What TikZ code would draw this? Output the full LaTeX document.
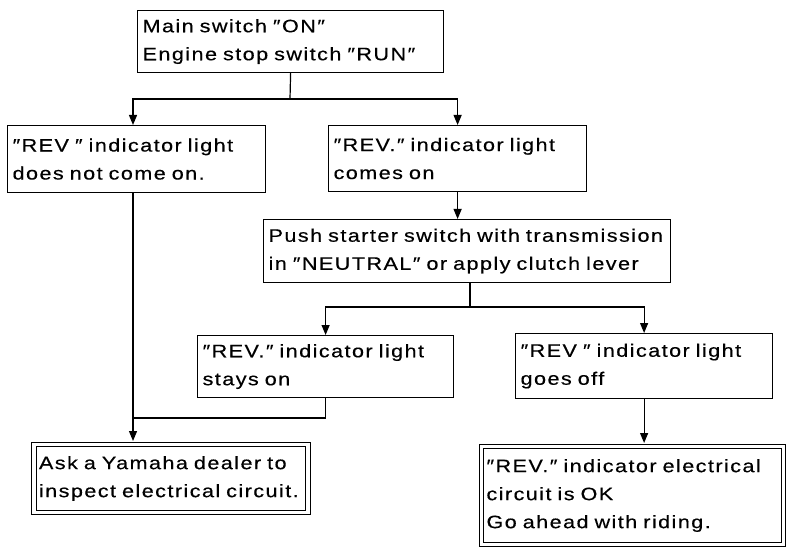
\documentclass[tikz,border=0pt]{standalone}
\usepackage{fontspec}
\setmainfont{Liberation Sans}[FakeStretch=1.2,LetterSpace=8,FakeBold=0.4]
\usetikzlibrary{arrows.meta}
\begin{document}
\begin{tikzpicture}[x=1pt, y=-1pt,
  font=\fontsize{18}{28}\selectfont,
  box/.style={draw, line width=1.2pt, anchor=north west, align=left,
              inner xsep=5pt, inner ysep=0pt},
  dbox/.style={box, double, double distance=3.6pt, line width=1pt},
  arr/.style={line width=1.2pt, -{Triangle[length=10pt,width=8pt]}},
  ln/.style={line width=1.2pt},
]
  \useasboundingbox (0,0) rectangle (787,548);

  \node[box, text width=296pt, minimum height=62pt] (top) at (137,10)
    {Main switch ″ON″\\Engine stop switch ″RUN″};
  \node[box, text width=248pt, minimum height=67pt] (no) at (7,125)
    {″REV ″ indicator light\\does not come on.};
  \node[box, text width=248pt, minimum height=66pt] (on) at (328,125)
    {″REV.″ indicator light\\comes on};
  \node[box, text width=397pt, minimum height=63pt] (push) at (263,219)
    {Push starter switch with transmission\\in ″NEUTRAL″ or apply clutch lever};
  \node[box, text width=246pt, minimum height=62pt] (stay) at (197,335)
    {″REV.″ indicator light\\stays on};
  \node[box, text width=247pt, minimum height=65pt] (off) at (515,333)
    {″REV ″ indicator light\\goes off};
  \node[dbox, text width=264pt, minimum height=68pt] (dealer) at (33.5,444)
    {Ask a Yamaha dealer to\\inspect electrical circuit.};
  \node[dbox, text width=292pt, minimum height=98pt] (ok) at (481,446)
    {″REV.″ indicator electrical\\circuit is OK\\Go ahead with riding.};

  \coordinate (j1) at (290,99);
  \coordinate (l1) at (133,99);
  \coordinate (j2) at (470,307);
  \coordinate (l2) at (133,418);

  \draw[ln] (top.south) -- (j1);
  \draw[arr] (j1) -- (l1) -- (l1 |- no.north);
  \draw[arr] (j1) -| (on.north);
  \draw[arr, shorten >=3pt] (l1 |- no.south) -- (l1 |- dealer.north);
  \draw[arr] (on.south) -- (on.south |- push.north);
  \draw[ln] (push.south -| j2) -- (j2);
  \draw[arr] (j2) -| (stay.north);
  \draw[arr] (j2) -| (off.north);
  \draw[ln] (stay.south) |- (l2);
  \draw[arr, shorten >=3pt] (off.south) -- (off.south |- ok.north);
\end{tikzpicture}
\end{document}
